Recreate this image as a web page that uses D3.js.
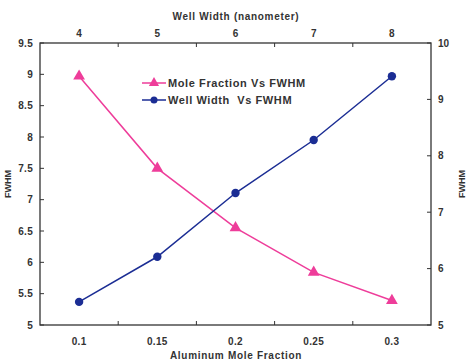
<!DOCTYPE html>
<html><head><meta charset="utf-8">
<script src="https://cdn.jsdelivr.net/npm/d3@7"></script>
<style>body{margin:0;background:#fff}svg{display:block}text{font-family:"Liberation Sans",Arial,sans-serif;font-weight:bold;fill:#333}</style>
</head><body><svg id="c" width="470" height="360"></svg>
<script>
const moleFractions = ["0.1","0.15","0.2","0.25","0.3"];
const wellWidths = ["4","5","6","7","8"];
const fwhmMole = [8.97, 7.5, 6.55, 5.84, 5.39];
const fwhmWell = [5.41, 6.21, 7.34, 8.28, 9.41];
const leftTicks = [5,5.5,6,6.5,7,7.5,8,8.5,9,9.5];
const rightTicks = [5,6,7,8,9,10];

const svg = d3.select("#c");
const L=40,R=431,T=43,B=325;
const pink="#ee3d9a", blue="#1b2d94", axc="#333";
const xb = d3.scaleBand().domain(moleFractions).range([L,R]);
const xt = d3.scaleBand().domain(wellWidths).range([L,R]);
const yl = d3.scaleLinear().domain([5,9.5]).range([B,T]);
const yr = d3.scaleLinear().domain([5,10]).range([B,T]);

svg.append("rect").attr("x",L).attr("y",T).attr("width",R-L).attr("height",B-T).attr("fill","none").attr("stroke",axc).attr("stroke-width",1.3);

const tk = svg.append("g").attr("stroke",axc).attr("stroke-width",1);
moleFractions.slice(1).map(d=>xb(d)).forEach(x=>{
  tk.append("line").attr("x1",x).attr("x2",x).attr("y1",B).attr("y2",B-4);
  tk.append("line").attr("x1",x).attr("x2",x).attr("y1",T).attr("y2",T+4);
});
leftTicks.forEach(v=>tk.append("line").attr("x1",L).attr("x2",L+4).attr("y1",yl(v)).attr("y2",yl(v)));
rightTicks.forEach(v=>tk.append("line").attr("x1",R).attr("x2",R-4).attr("y1",yr(v)).attr("y2",yr(v)));

const fs=10, ls="0.3px";
moleFractions.forEach(d=>svg.append("text").attr("x",xb(d)+xb.bandwidth()/2).attr("y",345).attr("text-anchor","middle").attr("font-size",fs).attr("letter-spacing",ls).text(d));
wellWidths.forEach(d=>svg.append("text").attr("x",xt(d)+xt.bandwidth()/2).attr("y",37).attr("text-anchor","middle").attr("font-size",fs).text(d));
leftTicks.forEach(v=>svg.append("text").attr("x",33).attr("y",yl(v)+3.5).attr("text-anchor","end").attr("font-size",fs).attr("letter-spacing",ls).text(v));
rightTicks.forEach(v=>svg.append("text").attr("x",438).attr("y",yr(v)+3.5).attr("text-anchor","start").attr("font-size",fs).text(v));

svg.append("text").attr("x",236).attr("y",20).attr("text-anchor","middle").attr("font-size",10).attr("letter-spacing","0.7px").text("Well Width (nanometer)");
svg.append("text").attr("x",236).attr("y",359).attr("text-anchor","middle").attr("font-size",10).attr("letter-spacing","0.7px").text("Aluminum Mole Fraction");
svg.append("text").attr("transform","translate(11,184) rotate(-90)").attr("text-anchor","middle").attr("font-size",9).attr("font-weight","normal").text("FWHM");
svg.append("text").attr("transform","translate(465,184) rotate(-90)").attr("text-anchor","middle").attr("font-size",9).attr("font-weight","normal").text("FWHM");

const line1 = d3.line().x((d,i)=>xb(moleFractions[i])+xb.bandwidth()/2).y(d=>yl(d));
const line2 = d3.line().x((d,i)=>xt(wellWidths[i])+xt.bandwidth()/2).y(d=>yr(d));
svg.append("path").attr("d",line1(fwhmMole)).attr("fill","none").attr("stroke",pink).attr("stroke-width",1.5);
svg.append("path").attr("d",line2(fwhmWell)).attr("fill","none").attr("stroke",blue).attr("stroke-width",1.5);
const tri = d3.symbol().type(d3.symbolTriangle).size(60);
fwhmMole.forEach((v,i)=>svg.append("path").attr("d",tri()).attr("fill",pink).attr("transform",`translate(${xb(moleFractions[i])+xb.bandwidth()/2},${yl(v)})`));
fwhmWell.forEach((v,i)=>svg.append("circle").attr("cx",xt(wellWidths[i])+xt.bandwidth()/2).attr("cy",yr(v)).attr("r",4.2).attr("fill",blue));

const lg = svg.append("g");
[[pink,"Mole Fraction Vs FWHM",83,"tri"],[blue,"Well Width  Vs FWHM",100,"circ"]].forEach(([c,t,y,m])=>{
  lg.append("line").attr("x1",142).attr("x2",166).attr("y1",y).attr("y2",y).attr("stroke",c).attr("stroke-width",1.5);
  if(m==="tri") lg.append("path").attr("d",d3.symbol().type(d3.symbolTriangle).size(45)()).attr("fill",c).attr("transform",`translate(154,${y})`);
  else lg.append("circle").attr("cx",154).attr("cy",y).attr("r",3.5).attr("fill",c);
  lg.append("text").attr("x",168).attr("y",y+4).attr("font-size",11).attr("letter-spacing","0.6px").attr("xml:space","preserve").style("white-space","pre").text(t);
});
</script></body></html>
